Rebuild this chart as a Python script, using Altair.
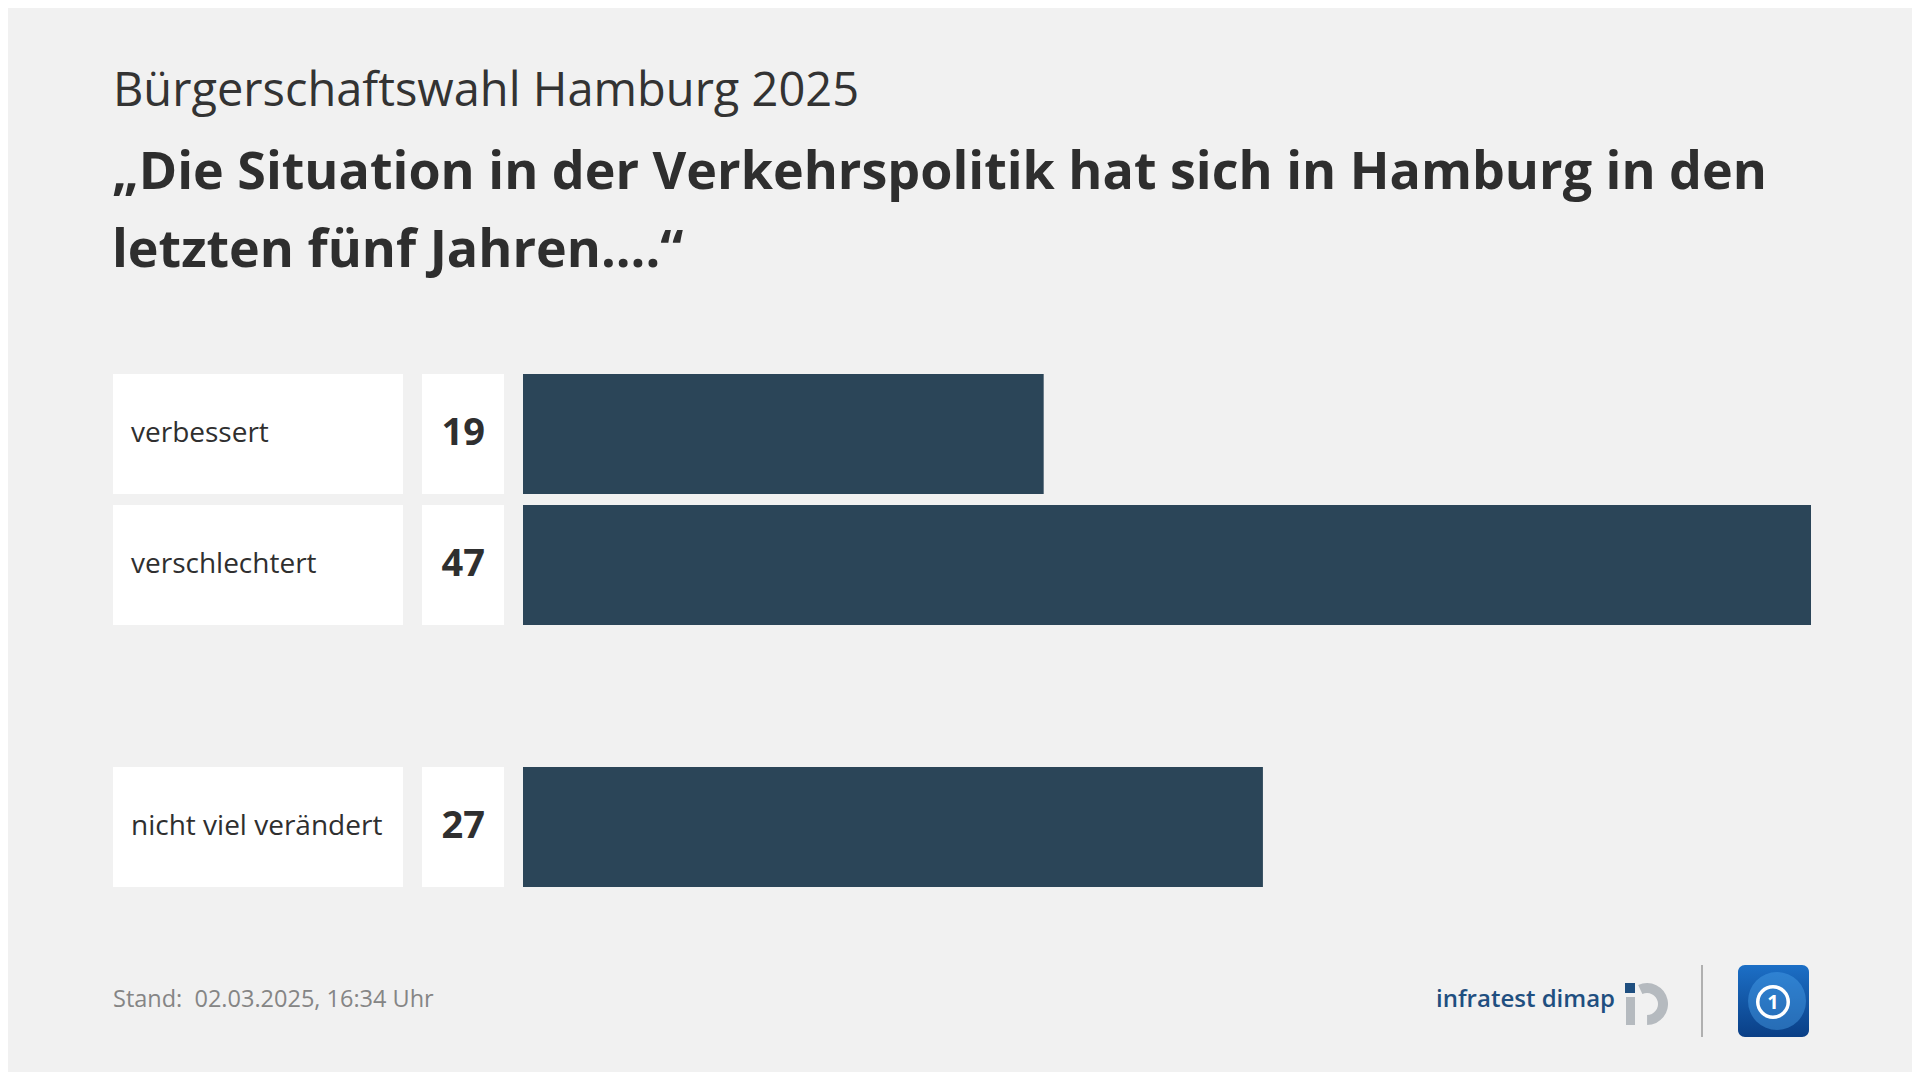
import altair as alt
import pandas as pd

# ---- data ----
categories = ["verbessert", "verschlechtert", "nicht viel verändert"]
values = [19, 47, 27]
row_order = ["verbessert", "verschlechtert", "gap", "nicht viel verändert"]

subtitle = "Bürgerschaftswahl Hamburg 2025"
title_line1 = "„Die Situation in der Verkehrspolitik hat sich in Hamburg in den"
title_line2 = "letzten fünf Jahren....“"
footer = "Stand:\u00a0 02.03.2025, 16:34 Uhr"
source = "infratest dimap"

df = pd.DataFrame({"cat": categories, "val": values})

W, H = 1904, 1064
BG = "#f1f1f1"
FONT = "Open Sans"
DARK = "#2f2f2f"
BAR = "#2b4558"

y_scale = alt.Scale(domain=row_order, range=[360.5, 884.5],
                    paddingInner=11 / 131, paddingOuter=5.5 / 131)
x_scale = alt.Scale(domain=[0, max(values)], range=[515, 1803])
y_enc = alt.Y("cat:N", scale=y_scale, axis=None)

base = alt.Chart(df)

label_box = base.mark_rect(color="white").encode(
    x=alt.value(105), x2=alt.value(395), y=y_enc)
value_box = base.mark_rect(color="white").encode(
    x=alt.value(414), x2=alt.value(496), y=y_enc)
bars = base.mark_bar(color=BAR).encode(
    x=alt.X("val:Q", scale=x_scale, axis=None), y=y_enc)
labels = base.mark_text(align="left", baseline="middle", font=FONT,
                        fontSize=28, color=DARK).encode(
    x=alt.value(123), y=y_enc, text="cat:N")
nums = base.mark_text(align="right", baseline="middle", font=FONT,
                      fontSize=38, fontWeight="bold", color=DARK).encode(
    x=alt.value(477), y=y_enc, text="val:Q")


def txt(s, x, y, **kw):
    return alt.Chart(pd.DataFrame({"t": [s]})).mark_text(
        font=kw.pop("font", FONT), **kw).encode(
        x=alt.value(x), y=alt.value(y), text="t:N")


one = pd.DataFrame({"a": [1]})

sub = txt(subtitle, 105, 98, align="left", baseline="alphabetic",
          fontSize=47, color="#333333")
t1 = txt(title_line1, 104, 181, align="left", baseline="alphabetic",
         fontSize=52, fontWeight="bold", color="#2e2e2e")
t2 = txt(title_line2, 104, 259, align="left", baseline="alphabetic",
         fontSize=52, fontWeight="bold", color="#2e2e2e")
foot = txt(footer, 105, 992, align="left", baseline="middle",
           fontSize=23.5, color="#858585")
src = txt(source, 1428, 992, align="left", baseline="middle",
          fontSize=24, fontWeight=600, color="#1f4f80")

# infratest dimap icon
dot = alt.Chart(one).mark_rect(color="#1f4f80").encode(
    x=alt.value(1617), x2=alt.value(1627), y=alt.value(975), y2=alt.value(985))
stem = alt.Chart(one).mark_rect(color="#b5babf").encode(
    x=alt.value(1618), x2=alt.value(1627), y=alt.value(989), y2=alt.value(1017))
ring = alt.Chart(one).mark_arc(radius=21, radius2=11, theta=5.85, theta2=9.42,
                               color="#b5babf").encode(
    x=alt.value(1639), y=alt.value(996))

divider = alt.Chart(one).mark_rule(color="#b0b0b0", strokeWidth=2).encode(
    x=alt.value(1694), y=alt.value(957), y2=alt.value(1029))

# tagesschau-like logo
logo_bg = alt.Chart(one).mark_rect(
    cornerRadius=7,
    fill=alt.Gradient(gradient="linear", x1=0, y1=0, x2=0, y2=1,
                      stops=[alt.GradientStop(color="#1c6fc6", offset=0),
                             alt.GradientStop(color="#0a3f86", offset=1)])
).encode(x=alt.value(1730), x2=alt.value(1801), y=alt.value(957), y2=alt.value(1029))
globe = alt.Chart(one).mark_arc(radius=29, theta=0, theta2=6.2832,
                                color="#4aa0e8", opacity=0.45).encode(
    x=alt.value(1769), y=alt.value(993))
logo_ring = alt.Chart(one).mark_arc(radius=17, radius2=13.5, theta=0, theta2=6.2832,
                                    color="white").encode(
    x=alt.value(1765), y=alt.value(994))
logo_one = txt("1", 1765, 995, align="center", baseline="middle",
               fontSize=20, fontWeight="bold", color="white")

chart = alt.layer(
    label_box, value_box, bars, labels, nums,
    sub, t1, t2, foot, src, dot, stem, ring, divider,
    logo_bg, globe, logo_ring, logo_one
).properties(
    width=W, height=H, background=BG, padding=0,
    autosize=alt.AutoSizeParams(type="none")
).configure_view(stroke=None)

chart.save("out.html", embed_options={"renderer": "svg", "actions": False})
